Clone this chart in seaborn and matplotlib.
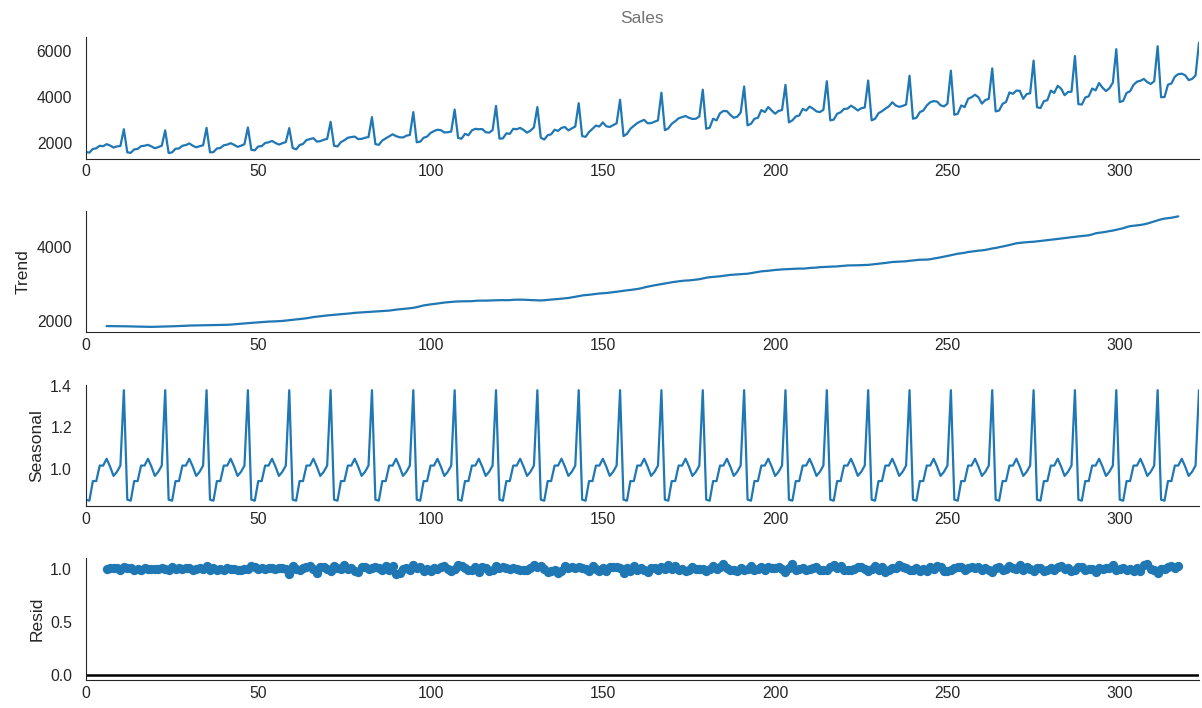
import numpy as np
import pandas as pd
import matplotlib
matplotlib.use("Agg")
import matplotlib.pyplot as plt
import seaborn as sns

# Monthly sales, 27 years x 12 months
sales = [
    1600, 1580, 1740, 1770, 1880, 1860, 1950, 1890, 1800, 1850, 1870, 2600,
    1590, 1570, 1720, 1740, 1860, 1880, 1920, 1850, 1770, 1820, 1880, 2550,
    1560, 1590, 1750, 1760, 1880, 1910, 1980, 1880, 1810, 1860, 1900, 2660,
    1590, 1600, 1760, 1780, 1900, 1930, 1990, 1920, 1830, 1880, 1950, 2680,
    1700, 1680, 1850, 1860, 2000, 2030, 2090, 2000, 1930, 1990, 2040, 2650,
    1780, 1720, 1910, 1960, 2130, 2170, 2210, 2060, 2080, 2140, 2180, 2920,
    1880, 1850, 2040, 2120, 2230, 2260, 2280, 2170, 2180, 2230, 2260, 3130,
    1950, 1920, 2110, 2200, 2290, 2380, 2300, 2250, 2240, 2320, 2350, 3350,
    2030, 2060, 2230, 2280, 2440, 2520, 2580, 2560, 2460, 2470, 2500, 3460,
    2220, 2190, 2400, 2340, 2550, 2620, 2600, 2610, 2470, 2450, 2560, 3620,
    2190, 2200, 2420, 2400, 2620, 2600, 2660, 2570, 2450, 2540, 2680, 3570,
    2230, 2150, 2340, 2380, 2580, 2530, 2660, 2700, 2550, 2640, 2720, 3740,
    2300, 2270, 2480, 2620, 2760, 2720, 2900, 2730, 2700, 2780, 2860, 3890,
    2300, 2400, 2620, 2750, 2870, 2950, 3010, 2860, 2870, 2930, 2990, 4200,
    2560, 2640, 2840, 2950, 3080, 3130, 3180, 3100, 3050, 3060, 3160, 4330,
    2620, 2670, 3060, 2990, 3300, 3400, 3390, 3230, 3100, 3150, 3330, 4470,
    2770, 2840, 3060, 3100, 3440, 3350, 3570, 3420, 3280, 3400, 3440, 4540,
    2900, 2990, 3160, 3200, 3490, 3420, 3590, 3500, 3380, 3350, 3450, 4700,
    2990, 3020, 3280, 3340, 3490, 3500, 3630, 3540, 3420, 3520, 3550, 4730,
    2990, 3060, 3300, 3390, 3500, 3600, 3780, 3640, 3580, 3620, 3680, 4940,
    3060, 3100, 3350, 3420, 3640, 3780, 3830, 3810, 3650, 3600, 3720, 5160,
    3230, 3280, 3640, 3570, 3930, 4000, 4110, 4000, 3720, 3880, 3930, 5260,
    3380, 3420, 3710, 3790, 4210, 4150, 4290, 4280, 3930, 4140, 4170, 5600,
    3560, 3530, 3830, 3870, 4290, 4190, 4500, 4370, 4090, 4230, 4240, 5800,
    3700, 3680, 3990, 4040, 4380, 4300, 4620, 4420, 4270, 4390, 4640, 6100,
    3790, 3840, 4190, 4260, 4540, 4680, 4720, 4800, 4660, 4580, 4700, 6230,
    4000, 4010, 4550, 4600, 4900, 5010, 5030, 4960, 4750, 4800, 4950, 6390,
]

# Seasonal factors for Jan..Dec
seasonal_factors = [0.850, 0.845, 0.940, 0.940, 1.015, 1.015,
                    1.048, 1.010, 0.965, 0.985, 1.015, 1.380]

period = 12
panel_labels = ["", "Trend", "Seasonal", "Resid"]
title_text = "Sales"

# ---- multiplicative decomposition (centered 2x12 moving average) ----
y = np.asarray(sales, dtype=float)
n = len(y)
idx = np.arange(n)
w = np.r_[0.5, np.ones(period - 1), 0.5] / period
trend = np.full(n, np.nan)
trend[period // 2: n - period // 2] = np.convolve(y, w, mode="valid")
seasonal = np.tile(seasonal_factors, n // period + 1)[:n]
resid = y / (trend * seasonal)

df = pd.DataFrame({"t": idx, "Sales": y, "Trend": trend,
                   "Seasonal": seasonal, "Resid": resid})

sns.set_style("white")
plt.rcParams["font.family"] = ["Liberation Sans", "DejaVu Sans"]
plt.rcParams["text.color"] = ".15"

blue = "#1f77b4"
fig, axes = plt.subplots(4, 1, figsize=(12.02, 7.08), dpi=100)
fig.subplots_adjust(left=0.0715, right=0.9975, top=0.9477, bottom=0.0395,
                    hspace=0.43)

sns.lineplot(data=df, x="t", y="Sales", ax=axes[0], color=blue, lw=1.6)
axes[0].set_title(title_text, color="0.45", fontsize=12.5, pad=10)

d = df.dropna()
sns.lineplot(data=d, x="t", y="Trend", ax=axes[1], color=blue, lw=1.6)
sns.lineplot(data=df, x="t", y="Seasonal", ax=axes[2], color=blue, lw=1.6)
sns.scatterplot(data=d, x="t", y="Resid", ax=axes[3], color=blue,
                s=45, linewidth=0, alpha=1, zorder=3)
axes[3].plot([0, n - 1], [0, 0], color="#000000", lw=1.8, zorder=2)

for ax, lab in zip(axes, panel_labels):
    ax.set_xlim(0, n - 1)
    ax.set_xlabel("")
    ax.set_ylabel(lab, fontsize=12.5)
    ax.tick_params(axis="x", labelsize=11.3, colors=".15", length=0, pad=4)
    ax.tick_params(axis="y", labelsize=11.3, colors=".15", length=0, pad=10)
    sns.despine(ax=ax)

axes[0].set_yticks([2000, 4000, 6000])
axes[1].set_yticks([2000, 4000])

fig.savefig("out.png", dpi=100)
